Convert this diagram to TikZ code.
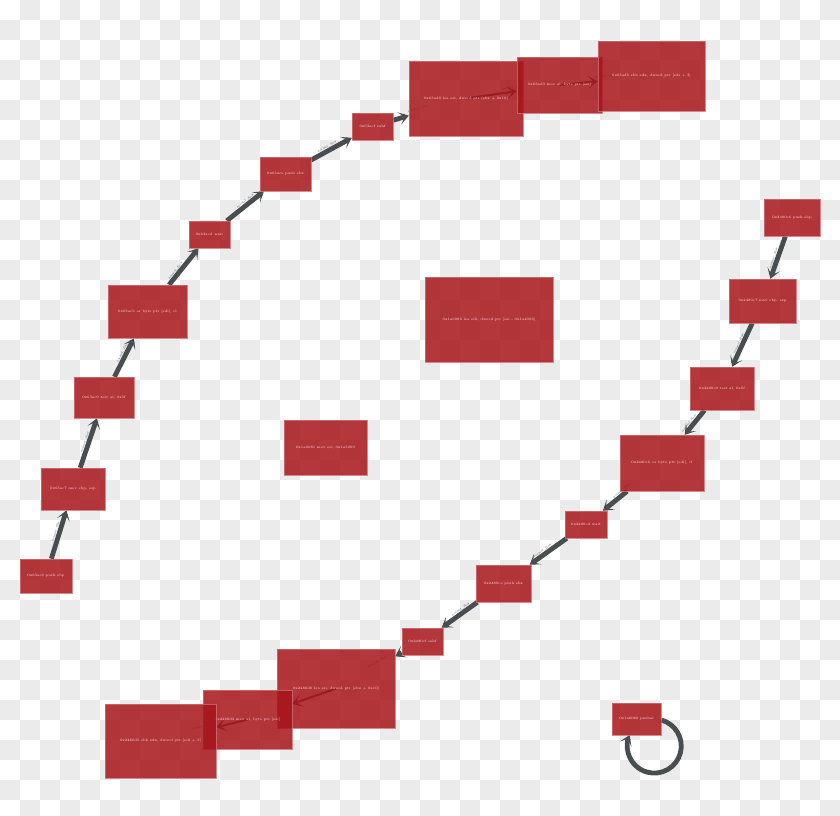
\documentclass[tikz,border=0pt]{standalone}
\usetikzlibrary{arrows.meta}
\pgfdeclarelayer{back}
\pgfdeclarelayer{edges}
\pgfsetlayers{back,edges,main}
\definecolor{blkred}{RGB}{167,20,26}
\definecolor{blkline}{RGB}{205,110,115}
\definecolor{blktext}{RGB}{250,228,228}
\definecolor{flowgray}{RGB}{72,77,79}
\definecolor{checker}{RGB}{235,235,235}
\tikzset{
  blk/.style={rectangle, fill=blkred, fill opacity=0.85, draw=blkline, draw opacity=0.8,
    line width=0.5pt, text=blktext, text opacity=1, inner sep=0pt,
    font=\fontsize{3.5}{4}\selectfont},
  flow/.style={draw=flowgray, line width=4.8pt, -{Stealth[length=10pt,width=13pt,inset=6pt]}},
  flowlbl/.style={midway, sloped, above=2pt, text=flowgray, inner sep=0.5pt,
    font=\fontsize{2.8}{3}\selectfont}
}
\begin{document}
\begin{tikzpicture}[x=1pt,y=1pt]
            \useasboundingbox (0,0) rectangle (840,-815);
            % left chain
            \node[blk, minimum width=52pt, minimum height=34pt] (l1) at (46,-576) {0x63ac6 push ebp};
            \node[blk, minimum width=64pt, minimum height=42pt] (l2) at (73,-489) {0x63ac7 mov ebp, esp};
            \node[blk, minimum width=60pt, minimum height=41pt] (l3) at (104,-397.5) {0x63ac9 test al, 0x5f};
            \node[blk, minimum width=79pt, minimum height=53pt] (l4) at (147.5,-311.5) {0x63acb or byte ptr [edi], cl};
            \node[blk, minimum width=41pt, minimum height=27pt] (l5) at (209.5,-234.5) {0x63acd wait};
            \node[blk, minimum width=51pt, minimum height=34pt] (l6) at (285.5,-174) {0x63ace push ebx};
            \node[blk, minimum width=41pt, minimum height=27pt] (l7) at (372.5,-126.5) {0x63acf sahf};
            \node[blk, minimum width=114pt, minimum height=75pt] (l8) at (466,-98.5) {0x63ad0 lea esi, dword ptr [ebx + 0x10]};
            \node[blk, minimum width=85pt, minimum height=56pt] (l9) at (559.5,-85) {0x63ad3 mov al, byte ptr [esi]};
            \node[blk, minimum width=107pt, minimum height=70pt] (l10) at (651.5,-76) {0x63ad5 sbb edx, dword ptr [edi + 3]};
            % right chain
            \node[blk, minimum width=56pt, minimum height=37pt] (r1) at (792,-217.5) {0x2480c6 push ebp};
            \node[blk, minimum width=67pt, minimum height=44pt] (r2) at (762.5,-301) {0x2480c7 mov ebp, esp};
            \node[blk, minimum width=64pt, minimum height=43pt] (r3) at (722,-388.5) {0x2480c9 test al, 0x5f};
            \node[blk, minimum width=84pt, minimum height=56pt] (r4) at (662,-463) {0x2480cb or byte ptr [edi], cl};
            \node[blk, minimum width=42pt, minimum height=27pt] (r5) at (586,-524.5) {0x2480cd wait};
            \node[blk, minimum width=55pt, minimum height=37pt] (r6) at (503.5,-583.5) {0x2480ce push ebx};
            \node[blk, minimum width=41pt, minimum height=27pt] (r7) at (422.5,-641.5) {0x2480cf sahf};
            \node[blk, minimum width=118pt, minimum height=79pt] (r8) at (336,-688.5) {0x2480d0 lea esi, dword ptr [ebx + 0x10]};
            \node[blk, minimum width=89pt, minimum height=59pt] (r9) at (247.5,-719.5) {0x2480d3 mov al, byte ptr [esi]};
            \node[blk, minimum width=111pt, minimum height=74pt] (r10) at (160.5,-741) {0x2480d5 sbb edx, dword ptr [edi + 3]};
            % loose blocks
            \node[blk, minimum width=128pt, minimum height=85pt] (m1) at (489,-319.5) {0x1a6086 lea edi, dword ptr [esi - 0x1a4000]};
            \node[blk, minimum width=83pt, minimum height=55pt] (m2) at (325.5,-447.5) {0x1a6081 mov esi, 0x1a5000};
            \node[blk, minimum width=49pt, minimum height=32pt] (pu) at (636.5,-719) {0x1a6080 pushal};

            \begin{pgfonlayer}{edges}
            \foreach \a/\b in {l1/l2,l2/l3,l3/l4,l4/l5,l5/l6,l6/l7,l7/l8,
                               r1/r2,r2/r3,r3/r4,r4/r5,r5/r6,r6/r7,r7/r8}{
              \draw[flow] (\a) -- (\b);
              \path (\a.center) -- (\b.center) node[flowlbl] {normal\_flow};
            }
            % blocks that overlap
            \foreach \a/\b in {l8/l9,l9/l10,r8/r9,r9/r10}{
              \draw[flow, line width=2pt] (\a.center) -- (\b);
              \path (\a.center) -- (\b.center) node[flowlbl] {normal\_flow};
            }
            \draw[flow] ([yshift=-1pt]pu.east) arc[start angle=75, end angle=-204, radius=27];
            \end{pgfonlayer}

            % checkered backdrop
            \begin{pgfonlayer}{back}
            \fill[white] (0,0) rectangle (840,-815);
            \foreach \i in {0,...,41}{
              \foreach \j in {0,...,40}{
                \pgfmathtruncatemacro\odd{mod(\i+\j,2)}
                \ifnum\odd=1
                  \fill[checker] (20*\i,-20*\j) rectangle ++(20,-20);
                \fi
              }
            }
            \end{pgfonlayer}
        \end{tikzpicture}
\end{document}
